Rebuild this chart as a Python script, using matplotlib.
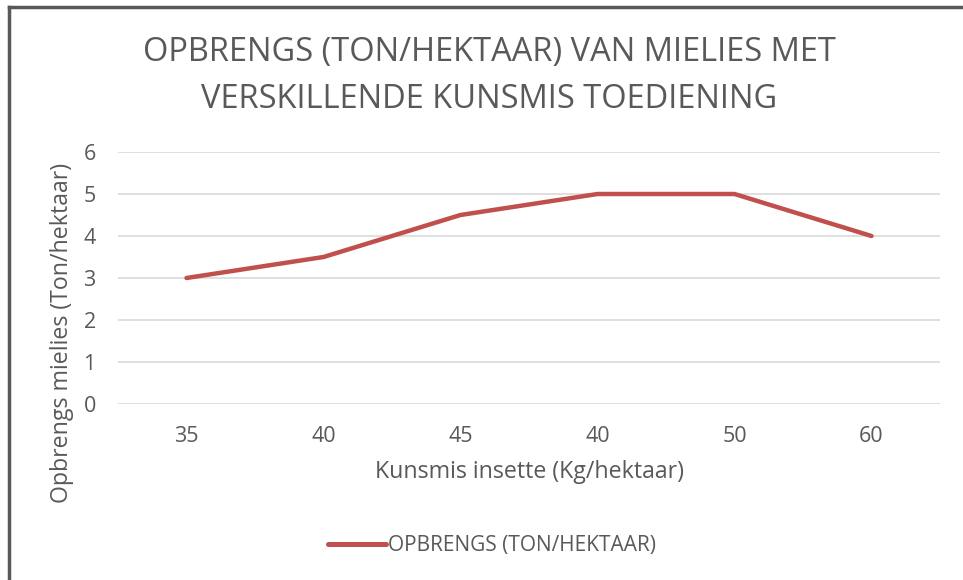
import matplotlib.pyplot as plt
from matplotlib.lines import Line2D

plt.rcParams['font.family'] = ['Open Sans', 'DejaVu Sans']

# data
kunsmis = ['35', '40', '45', '40', '50', '60']
opbrengs = [3, 3.5, 4.5, 5, 5, 4]
y_ticks = [0, 1, 2, 3, 4, 5, 6]

grey = '#595959'
red = '#C0504D'

fig = plt.figure(figsize=(9.63, 5.8), dpi=100)
W, H = 963, 580
ax = fig.add_axes([118 / W, 1 - 404 / H, (940 - 118) / W, (404 - 152) / H])

x = range(len(kunsmis))
ax.plot(x, opbrengs, color=red, lw=3.2, solid_capstyle='round', solid_joinstyle='round',
        label='OPBRENGS (TON/HEKTAAR)')

ax.set_xlim(-0.5, len(kunsmis) - 0.5)
ax.set_ylim(0, 6)
ax.set_yticks(y_ticks)
ax.set_xticks(list(x))
ax.set_xticklabels(kunsmis)
ax.grid(axis='y', color='#D9D9D9', lw=1.2)
ax.set_axisbelow(True)
for s in ax.spines.values():
    s.set_visible(False)
ax.tick_params(length=0, labelsize=15.5, colors=grey, labelcolor=grey)
ax.tick_params(axis='y', pad=16)
ax.tick_params(axis='x', pad=16)

fig.text(489 / W, 1 - 53 / H, 'OPBRENGS (TON/HEKTAAR) VAN MIELIES MET',
         ha='center', va='center', fontsize=23.5, color=grey)
fig.text(489 / W, 1 - 100 / H, 'VERSKILLENDE KUNSMIS TOEDIENING',
         ha='center', va='center', fontsize=23.5, color=grey)

fig.text(62 / W, 1 - 333 / H, 'Opbrengs mielies (Ton/hektaar)', rotation=90,
         ha='center', va='center', fontsize=16.7, color=grey)
fig.text(529 / W, 1 - 472 / H, 'Kunsmis insette (Kg/hektaar)',
         ha='center', va='center', fontsize=16.7, color=grey)

h = Line2D([], [], color=red, lw=3.6, solid_capstyle='round')
fig.legend([h], ['OPBRENGS (TON/HEKTAAR)'], loc='center', bbox_to_anchor=(492 / W, 1 - 546 / H),
           frameon=False, fontsize=15, labelcolor=grey, handlelength=2.75, handletextpad=0.1)

# border on top and left like the source screenshot
fig.add_artist(Line2D([9 / W, 9 / W], [0, 1 - 7 / H], transform=fig.transFigure, color=grey, lw=2.5))
fig.add_artist(Line2D([9 / W, 1], [1 - 7 / H, 1 - 7 / H], transform=fig.transFigure, color=grey, lw=2.5))

fig.savefig('out.png', dpi=100)
